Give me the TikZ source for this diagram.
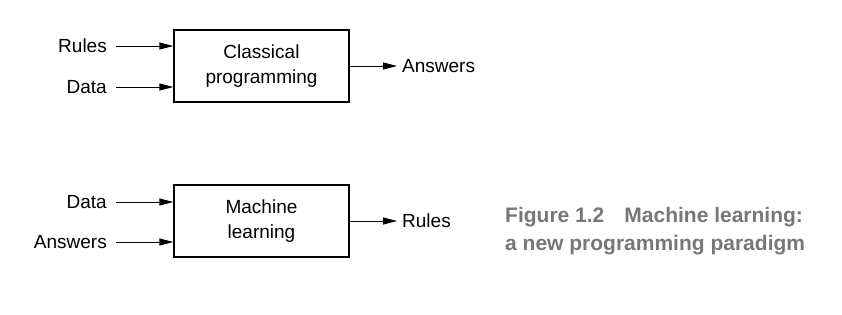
\documentclass[tikz,border=0pt]{standalone}
\usepackage{fontspec}
\setmainfont{Liberation Sans}
\usetikzlibrary{arrows.meta}
\definecolor{capgray}{HTML}{777777}
\begin{document}
\begin{tikzpicture}[x=1pt,y=-1pt,
  procbox/.style={draw=black, line width=1.2pt, minimum width=175pt, minimum height=72pt,
    inner sep=0pt, align=center, font=\fontsize{19}{25}\selectfont},
  lbl/.style={inner sep=0pt, font=\fontsize{19}{23}\selectfont},
  flow/.style={line width=0.9pt, -{Triangle[length=14pt,width=7pt]}}]
\useasboundingbox (0,0) rectangle (842,314);

% classical programming
\node[procbox] (cp) at (261.5,66) {Classical\\programming};
\node[lbl, anchor=east] (r1) at (107,46) {Rules};
\node[lbl, anchor=east] (d1) at (107,87) {Data};
\node[lbl, anchor=west] (a1) at (402,66) {Answers};
\draw[flow] ([xshift=9pt]r1.east) -- (r1.east -| cp.west);
\draw[flow] ([xshift=9pt]d1.east) -- (d1.east -| cp.west);
\draw[flow] (cp.east) -- ([xshift=-5pt]a1.west);

% machine learning
\node[procbox] (ml) at (261.5,221) {Machine\\learning};
\node[lbl, anchor=east] (d2) at (107,202) {Data};
\node[lbl, anchor=east] (a2) at (107,242) {Answers};
\node[lbl, anchor=west] (r2) at (402,221) {Rules};
\draw[flow] ([xshift=9pt]d2.east) -- (d2.east -| ml.west);
\draw[flow] ([xshift=9pt]a2.east) -- (a2.east -| ml.west);
\draw[flow] (ml.east) -- ([xshift=-5pt]r2.west);

% caption
\node[anchor=west, inner sep=0pt, align=left, text=capgray,
  font=\fontsize{21}{28}\selectfont\bfseries] (cap) at (505,231)
  {Figure 1.2\hspace{20pt}Machine learning:\\a new programming paradigm};
\end{tikzpicture}
\end{document}
